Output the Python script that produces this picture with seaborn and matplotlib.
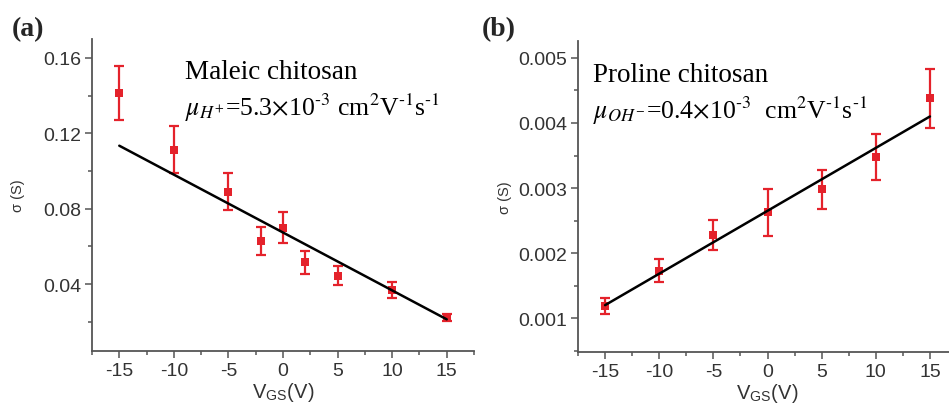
import numpy as np
import pandas as pd
import matplotlib
matplotlib.use("Agg")
import matplotlib.pyplot as plt
import seaborn as sns
from matplotlib.ticker import MultipleLocator, AutoMinorLocator

# Gate voltage sweep (V)
vgs_a = [-15, -10, -5, -2, 0, 2, 5, 10, 15]
vgs_b = [-15, -10, -5, 0, 5, 10, 15]

# Conductance of maleic chitosan (S) and its error
sigma_a = [0.1414, 0.1112, 0.0890, 0.0628, 0.0700, 0.0516, 0.0445, 0.0370, 0.0222]
err_a = [0.0143, 0.0125, 0.0098, 0.0075, 0.0080, 0.0062, 0.0052, 0.0042, 0.0020]

# Conductance of proline chitosan (S) and its error
sigma_b = [0.00119, 0.00173, 0.00228, 0.00263, 0.00298, 0.00348, 0.00438]
err_b = [0.00012, 0.00018, 0.00023, 0.00036, 0.00030, 0.00035, 0.00045]

# Linear fits evaluated at the sweep ends
fit_x = [-15, 15]
fit_a = [0.1134, 0.0213]
fit_b = [0.00120, 0.00410]

label_a = "Maleic chitosan"
mob_a = r"$\mu_{H^{+}}$=5.3$\times$10$^{\text{-3}}$ cm$^{\text{2}}$V$^{\text{-1}}$s$^{\text{-1}}$"
label_b = "Proline chitosan"
mob_b = r"$\mu_{OH^{-}}$=0.4$\times$10$^{\text{-3}}$  cm$^{\text{2}}$V$^{\text{-1}}$s$^{\text{-1}}$"

sns.set_style("ticks")
plt.rcParams["font.family"] = ["Liberation Sans", "DejaVu Sans"]
plt.rcParams["mathtext.fontset"] = "stix"
plt.rcParams["axes.unicode_minus"] = False

RED = "#e4222b"
GREY = "#555555"
TXT = "#333333"

fig = plt.figure(figsize=(9.49, 4.06), dpi=100)
W, H = 949, 406


def px_axes(left, right, top, bottom):
    return fig.add_axes([left / W, 1 - bottom / H, (right - left) / W, (bottom - top) / H])


ax_a = px_axes(92, 474, 40, 352)
ax_b = px_axes(578, 957, 42, 353)


def draw(ax, x, y, e, fy, ylim, ymaj, title, mob, tx, ty):
    df = pd.DataFrame({"x": x, "y": y})
    ax.errorbar(x, y, yerr=e, fmt="none", ecolor=RED, elinewidth=1.6,
                capsize=3.5, capthick=1.6, zorder=2)
    sns.scatterplot(data=df, x="x", y="y", ax=ax, marker="s", s=28,
                    color=RED, edgecolor=RED, linewidth=0, zorder=3)
    sns.lineplot(x=fit_x, y=fy, ax=ax, color="black", linewidth=1.8, zorder=4)
    ax.set_xlim(-17.5, 17.5)
    ax.set_ylim(*ylim)
    ax.xaxis.set_major_locator(MultipleLocator(5))
    ax.xaxis.set_minor_locator(AutoMinorLocator(2))
    ax.yaxis.set_major_locator(MultipleLocator(ymaj))
    ax.yaxis.set_minor_locator(AutoMinorLocator(2))
    for s in ["top", "right"]:
        ax.spines[s].set_visible(False)
    for s in ["left", "bottom"]:
        ax.spines[s].set_color(GREY)
        ax.spines[s].set_linewidth(1.3)
    ax.tick_params(which="major", direction="out", length=5, width=1.1,
                   color=GREY, labelsize=14, labelcolor=TXT, pad=3)
    ax.tick_params(which="minor", direction="out", length=3, width=1.1, color=GREY)
    ax.set_xlabel(r"V$_{\mathregular{GS}}$(V)", fontsize=14.5, color=TXT, labelpad=1)
    ax.set_ylabel("σ (S)", fontsize=10.5, color=TXT)
    ax.text(tx, ty, title, transform=ax.transAxes, fontsize=19.5,
            family="Liberation Serif", color="black", va="baseline")
    ax.text(tx, ty - 0.118, mob, transform=ax.transAxes, fontsize=18.5,
            family="Liberation Serif", color="black", va="baseline")


draw(ax_a, vgs_a, sigma_a, err_a, fit_a, (0.0045, 0.170), 0.04,
     label_a, mob_a, 0.243, 0.875)
ax_a.set_yticklabels([f"{t:.2f}" for t in ax_a.get_yticks()])
ax_a.yaxis.set_label_coords(-0.175, 0.5)

draw(ax_b, vgs_b, sigma_b, err_b, fit_b, (0.00048, 0.00526), 0.001,
     label_b, mob_b, 0.04, 0.87)
ax_b.set_yticklabels([f"{t:.3f}" for t in ax_b.get_yticks()])
ax_b.yaxis.set_label_coords(-0.175, 0.5)

fig.text(12 / W, 1 - 36 / H, "(a)", fontsize=20, fontweight="bold",
         family="Liberation Serif", va="baseline")
fig.text(482 / W, 1 - 36 / H, "(b)", fontsize=20, fontweight="bold",
         family="Liberation Serif", va="baseline")

fig.savefig("out.png", dpi=100)
